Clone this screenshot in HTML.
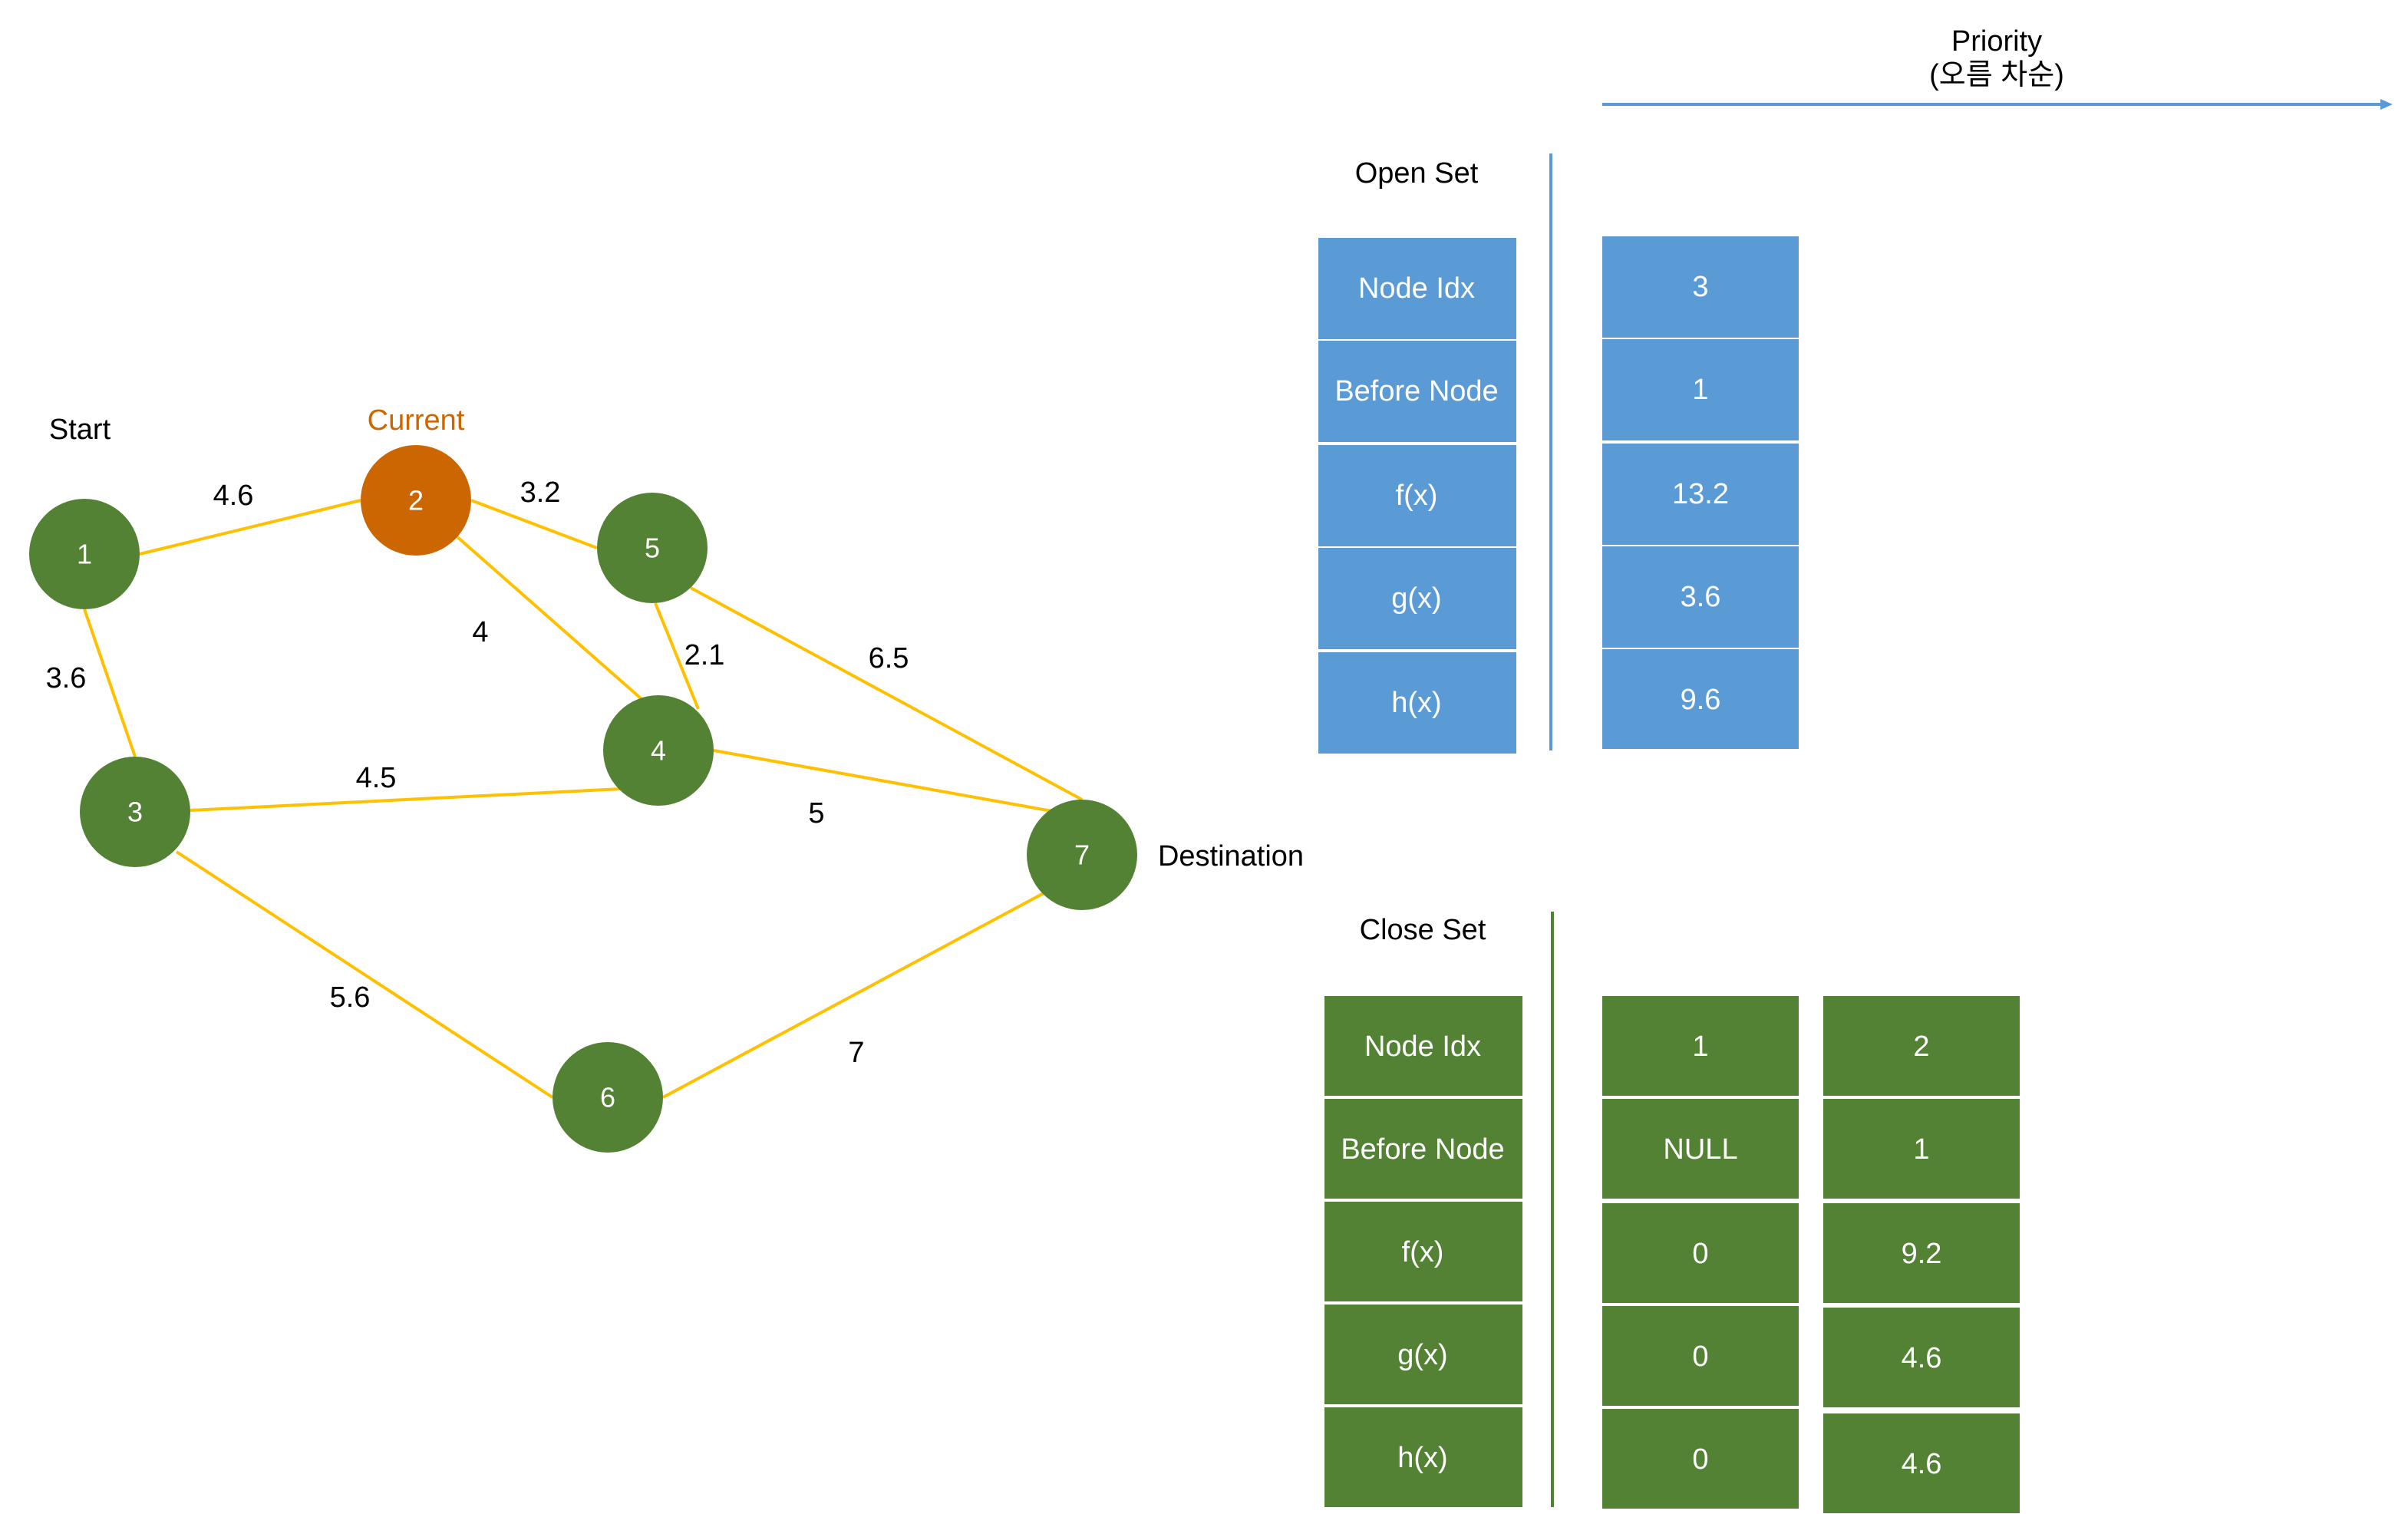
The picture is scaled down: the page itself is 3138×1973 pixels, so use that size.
<!DOCTYPE html>
<html><head><meta charset="utf-8"><style>
html,body{margin:0;padding:0;background:#fff;}
svg{display:block;}
text{font-family:"Liberation Sans","Noto Sans CJK KR",sans-serif;}
</style></head><body>
<svg width="3138" height="1973" viewBox="0 0 1569 986.5" xmlns="http://www.w3.org/2000/svg">
<g stroke="#FFC000" stroke-width="2" fill="none">
<line x1="91" y1="361" x2="235" y2="326"/>
<line x1="55" y1="397" x2="88" y2="493"/>
<line x1="307" y1="326" x2="389" y2="357"/>
<line x1="297" y1="349" x2="455" y2="488"/>
<line x1="427" y1="393" x2="455" y2="462"/>
<line x1="450" y1="383" x2="705" y2="521"/>
<line x1="124" y1="528" x2="405" y2="514"/>
<line x1="465" y1="489" x2="705" y2="532"/>
<line x1="115" y1="555" x2="360" y2="715"/>
<line x1="432" y1="715" x2="680" y2="582"/>
</g>
<g fill="#548235">
<circle cx="55" cy="361" r="36"/>
<circle cx="425" cy="357" r="36"/>
<circle cx="429" cy="489" r="36"/>
<circle cx="88" cy="529" r="36"/>
<circle cx="705" cy="557" r="36"/>
<circle cx="396" cy="715" r="36"/>
</g>
<circle cx="271" cy="326" r="36" fill="#CC6600"/>
<g fill="#fff" font-size="18" text-anchor="middle" dominant-baseline="central">
<text x="55" y="361">1</text><text x="271" y="326">2</text><text x="425" y="357">5</text>
<text x="429" y="489">4</text><text x="88" y="529">3</text><text x="705" y="557">7</text><text x="396" y="715">6</text>
</g>
<g fill="#000" font-size="19" text-anchor="middle" dominant-baseline="central">
<text x="152" y="323">4.6</text><text x="352" y="321">3.2</text><text x="313" y="412">4</text>
<text x="459" y="427">2.1</text><text x="579" y="429">6.5</text><text x="43" y="442">3.6</text>
<text x="245" y="507">4.5</text><text x="532" y="530">5</text><text x="228" y="650">5.6</text>
<text x="558" y="686">7</text>
<text x="52" y="280">Start</text><text x="802" y="558">Destination</text>
<text x="923" y="113">Open Set</text><text x="927" y="606">Close Set</text>
<text x="1301" y="27">Priority</text><text x="1301" y="49">(오름 차순)</text>
</g>
<text x="271" y="274" fill="#CC6600" font-size="19" text-anchor="middle" dominant-baseline="central">Current</text>
<line x1="1044" y1="68" x2="1553" y2="68" stroke="#5B9BD5" stroke-width="2"/>
<polygon points="1559,68 1551,64.5 1551,71.5" fill="#5B9BD5"/>
<line x1="1010.5" y1="100" x2="1010.5" y2="489" stroke="#5B9BD5" stroke-width="2"/>
<line x1="1011.5" y1="594" x2="1011.5" y2="982" stroke="#548235" stroke-width="2"/>
<g fill="#5B9BD5">
<rect x="859" y="155" width="129" height="66"/><rect x="859" y="222" width="129" height="66"/>
<rect x="859" y="290" width="129" height="66"/><rect x="859" y="357" width="129" height="66"/>
<rect x="859" y="425" width="129" height="66"/>
<rect x="1044" y="154" width="128" height="66"/><rect x="1044" y="221" width="128" height="66"/>
<rect x="1044" y="289" width="128" height="66"/><rect x="1044" y="356" width="128" height="66"/>
<rect x="1044" y="423" width="128" height="65"/>
</g>
<g fill="#548235">
<rect x="863" y="649" width="129" height="65"/><rect x="863" y="716" width="129" height="65"/>
<rect x="863" y="783" width="129" height="65"/><rect x="863" y="850" width="129" height="65"/>
<rect x="863" y="917" width="129" height="65"/>
<rect x="1044" y="649" width="128" height="65"/><rect x="1044" y="716" width="128" height="65"/>
<rect x="1044" y="784" width="128" height="65"/><rect x="1044" y="851" width="128" height="65"/>
<rect x="1044" y="918" width="128" height="65"/>
<rect x="1188" y="649" width="128" height="65"/><rect x="1188" y="716" width="128" height="65"/>
<rect x="1188" y="784" width="128" height="65"/><rect x="1188" y="852" width="128" height="65"/>
<rect x="1188" y="921" width="128" height="65"/>
</g>
<g fill="#fff" font-size="19" text-anchor="middle" dominant-baseline="central">
<text x="923" y="188">Node Idx</text><text x="923" y="255">Before Node</text><text x="923" y="323">f(x)</text>
<text x="923" y="390">g(x)</text><text x="923" y="458">h(x)</text>
<text x="1108" y="187">3</text><text x="1108" y="254">1</text><text x="1108" y="322">13.2</text>
<text x="1108" y="389">3.6</text><text x="1108" y="456">9.6</text>
<text x="927" y="682">Node Idx</text><text x="927" y="749">Before Node</text><text x="927" y="816">f(x)</text>
<text x="927" y="883">g(x)</text><text x="927" y="950">h(x)</text>
<text x="1108" y="682">1</text><text x="1108" y="749">NULL</text><text x="1108" y="817">0</text>
<text x="1108" y="884">0</text><text x="1108" y="951">0</text>
<text x="1252" y="682">2</text><text x="1252" y="749">1</text><text x="1252" y="817">9.2</text>
<text x="1252" y="885">4.6</text><text x="1252" y="954">4.6</text>
</g>
</svg>
</body></html>
